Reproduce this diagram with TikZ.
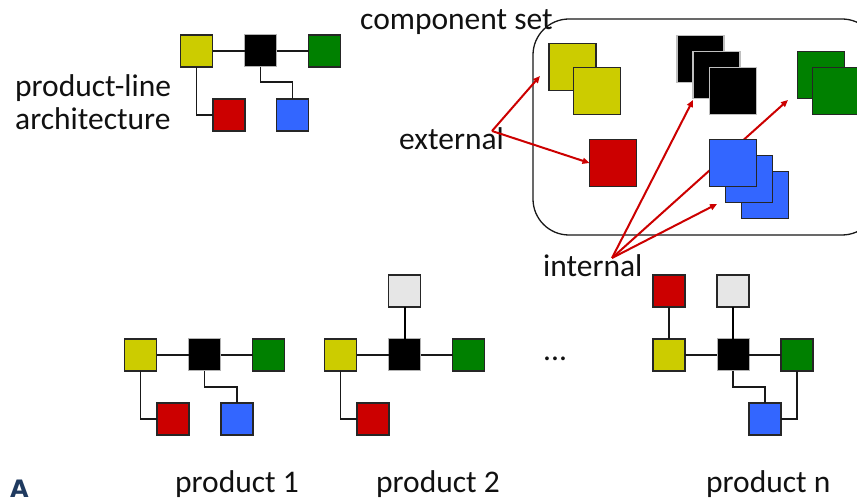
\documentclass[tikz,border=0pt]{standalone}
\usepackage{fontspec}
\setmainfont{Carlito}
\newfontfamily\logofont{DejaVu Sans}
\usetikzlibrary{arrows.meta}
\definecolor{cy}{HTML}{CCCC00}
\definecolor{cg}{HTML}{008000}
\definecolor{cr}{HTML}{CC0000}
\definecolor{cb}{HTML}{3366FF}
\definecolor{cgr}{HTML}{E6E6E6}
\definecolor{logo}{HTML}{1F3A5F}
\definecolor{txt}{HTML}{111111}
\tikzset{
  sq/.style={rectangle, minimum size=32pt, inner sep=0pt, outer sep=0pt, draw=black!85, line width=1.3pt, fill=#1},
  bsq/.style={rectangle, minimum size=47pt, inner sep=0pt, outer sep=0pt, draw=black!85, line width=1.3pt, fill=#1},
  ksq/.style={rectangle, minimum size=32pt, inner sep=0pt, outer sep=0pt, draw=black!30, line width=1pt, fill=black},
  kbsq/.style={rectangle, minimum size=47pt, inner sep=0pt, outer sep=0pt, draw=black!25, line width=1.2pt, fill=black},
  conn/.style={draw=black!90, line width=1.3pt},
  tconn/.style={draw=black, line width=2pt},
  lbl/.style={font=\fontsize{31.5}{37}\selectfont, text=txt, inner sep=0pt},
  redarr/.style={draw=cr, line width=2pt, -{Triangle[length=7pt,width=6pt]}},
  setbox/.style={draw=black!90, line width=1.3pt, rounded corners=36pt}
}
\begin{document}
\begin{tikzpicture}[x=1pt,y=-1pt]
\useasboundingbox (0,0) rectangle (857,502);
\clip (0,0) rectangle (857,502);

% ---------- product-line architecture ----------
\node[sq=cy] (ay) at (196.5,51) {};
\node[ksq]   (ak) at (260.5,51) {};
\node[sq=cg] (ag) at (324.5,51) {};
\node[sq=cr] (ar) at (229,115) {};
\node[sq=cb] (ab) at (292.5,115) {};
\draw[conn] (ay) -- (ak);
\draw[conn] (ak) -- (ag);
\draw[conn] (ay.south) |- (ar.west);
\draw[conn] (ak.south) -- ++(0,15) -| (ab.north);
\node[lbl, anchor=base west] (plt) at (15,97) {product-line};
\node[lbl, anchor=base west] (arc) at (15,130) {architecture};

% ---------- component set ----------
\draw[setbox] (533,19) rectangle (878,235);
\node[lbl, anchor=base west] (cst) at (360,30) {component set};

\coordinate (extap) at (492,131);
\coordinate (intap) at (612,258);
\coordinate (tipy) at (540,76);
\coordinate (tipk) at (693,100);
\coordinate (tipg) at (788,100);
\coordinate (tipb) at (717,204);

\draw[redarr] (intap) -- (tipg);

\node[bsq=cy] (cy1) at (572.5,67) {};
\node[bsq=cy] (cy2) at (597,91) {};
\node[kbsq] (ck1) at (700.5,59) {};
\node[kbsq] (ck2) at (716.5,75) {};
\node[kbsq] (ck3) at (733,91) {};
\node[bsq=cg] (cg1) at (821,75) {};
\node[bsq=cg] (cg2) at (836,91) {};
\node[bsq=cr] (cr1) at (613,163) {};
\node[bsq=cb] (cb3) at (765,195) {};
\node[bsq=cb] (cb2) at (749,179) {};
\node[bsq=cb] (cb1) at (733,163) {};

\node[lbl, anchor=base west] (ext) at (399,150) {external};
\node[lbl, anchor=base west] (int) at (543,277) {internal};

\draw[redarr] (extap) -- (tipy);
\draw[redarr] (extap) -- (cr1.west);
\draw[redarr] (intap) -- (tipk);
\draw[redarr] (intap) -- (tipb);

% ---------- product 1 ----------
\node[sq=cy] (py1) at (140.5,355) {};
\node[ksq]   (pk1) at (204.5,355) {};
\node[sq=cg] (pg1) at (268.5,355) {};
\node[sq=cr] (pr1) at (173,419) {};
\node[sq=cb] (pb1) at (237,419) {};
\draw[conn] (py1) -- (pk1);
\draw[conn] (pk1) -- (pg1);
\draw[conn] (py1.south) |- (pr1.west);
\draw[conn] (pk1.south) -- ++(0,16) -| (pb1.north);

% ---------- product 2 ----------
\node[sq=cy]  (py2) at (340.5,355) {};
\node[ksq]    (pk2) at (404.5,355) {};
\node[sq=cg]  (pg2) at (468.5,355) {};
\node[sq=cgr] (pw2) at (404.5,291) {};
\node[sq=cr]  (pr2) at (373,419) {};
\draw[conn] (py2) -- (pk2);
\draw[conn] (pk2) -- (pg2);
\draw[tconn] (pw2) -- (pk2);
\draw[conn] (py2.south) |- (pr2.west);

% ---------- product n ----------
\node[sq=cy]  (pyn) at (669,355) {};
\node[ksq]    (pkn) at (733,355) {};
\node[sq=cg]  (pgn) at (797,355) {};
\node[sq=cr]  (prn) at (669,291) {};
\node[sq=cgr] (pwn) at (733,291) {};
\node[sq=cb]  (pbn) at (765,419) {};
\draw[conn] (pyn) -- (pkn);
\draw[conn] (pkn) -- (pgn);
\draw[conn] (prn) -- (pyn);
\draw[tconn] (pwn) -- (pkn);
\draw[conn] (pkn.south) -- ++(0,16) -| (pbn.north);
\draw[conn] (pgn.south) |- (pbn.east);

\node[lbl, anchor=base west] (dots) at (543,361) {...};

% ---------- labels ----------
\node[lbl, anchor=base west] (l1) at (175,492) {product 1};
\node[lbl, anchor=base west] (l2) at (376,492) {product 2};
\node[lbl, anchor=base west] (ln) at (706,492) {product n};

\node[font=\fontsize{24}{28}\selectfont\logofont\bfseries, text=logo, inner sep=0pt, anchor=base west] (logoA) at (10,497) {A};
\end{tikzpicture}
\end{document}
